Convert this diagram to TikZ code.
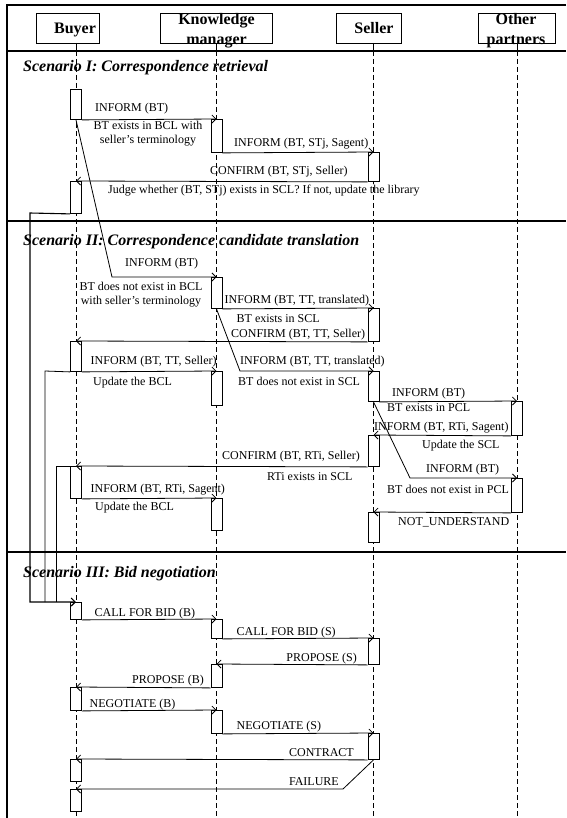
\documentclass[tikz,border=0pt]{standalone}
\usepackage{fontspec}
\setmainfont{Liberation Serif}
\usetikzlibrary{arrows.meta}

\tikzset{
  frame/.style={line width=1.6pt},
  life/.style={line width=0.8pt, dash pattern=on 5pt off 3pt},
  hdr/.style={draw, line width=0.9pt, minimum height=30pt, inner sep=0pt},
  hdrtxt/.style={font=\fontsize{16}{20}\selectfont\bfseries, align=center, inner sep=0pt},
  act/.style={draw, fill=white, line width=0.9pt, minimum width=11pt, inner sep=0pt, anchor=north},
  msg/.style={-{Straight Barb[length=4pt,width=8pt]}, line width=0.8pt},
  lbl/.style={font=\fontsize{12}{14}\selectfont, inner sep=0pt, anchor=base west},
  scen/.style={font=\fontsize{16}{18}\selectfont\bfseries\itshape, inner sep=0pt, anchor=base west}
}

\begin{document}
\begin{tikzpicture}[x=1pt, y=-1pt]
  \useasboundingbox (0,0) rectangle (566,818);

  % Frame and scenario separators
  \draw[frame] (566,5) -- (7,5) -- (7,818);
  \draw[frame] (7,51) -- (566,51);
  \draw[frame] (7,221) -- (566,221);
  \draw[frame] (7,552) -- (566,552);

  % Lifelines
  \draw[line width=0.8pt] (76,43) -- (76,51);
  \draw[line width=0.8pt] (216.5,43) -- (216.5,51);
  \draw[line width=0.8pt] (373.5,43) -- (373.5,51);
  \draw[line width=0.8pt] (517,43) -- (517,51);
  \draw[life] (76,51) -- (76,818);
  \draw[life] (216.5,51) -- (216.5,818);
  \draw[life] (373.5,51) -- (373.5,818);
  \draw[life] (517,51) -- (517,818);

  % Headers
  \node[hdr, minimum width=63pt] (buyer) at (67.5,28) {};
  \node[hdr, minimum width=112.5pt] (km) at (216.25,28) {};
  \node[hdr, minimum width=65pt] (seller) at (368.5,28) {};
  \node[hdr, minimum width=77pt] (other) at (516.5,28) {};
  \node[hdrtxt, anchor=base] (buyertxt) at (75,33.5) {Buyer};
  \node[hdrtxt] (kmtxt) at (216.5,30.3) {Knowledge\\manager};
  \node[hdrtxt, anchor=base] (sellertxt) at (374,33.5) {Seller};
  \node[hdrtxt] (othertxt) at (516,30.3) {Other\\partners};

  % Scenario I
  \node[scen] (scenI) at (23,72) {Scenario I: Correspondence retrieval};
  \node[act, minimum height=30pt] (b1) at (76,89) {};
  \node[act, minimum height=33pt] (k1) at (216.5,119) {};
  \node[act, minimum height=29pt] (s1) at (373.5,152) {};
  \node[act, minimum height=32pt] (b2) at (76,181) {};
  \draw[msg] (b1.south east) -- (k1.north);
  \draw[msg] (k1.south east) -- (s1.north);
  \draw[msg] (s1.south west) -- (b2.north);
  \node[lbl] (tI1) at (95,112) {INFORM (BT)};
  \node[lbl, anchor=center, align=center] (tI2) at (148,134) {BT exists in BCL with\\seller’s terminology};
  \node[lbl] (tI3) at (234,147) {INFORM (BT, STj, Sagent)};
  \node[lbl] (tI4) at (210,175) {CONFIRM (BT, STj, Seller)};
  \node[lbl] (tI5) at (108,194) {Judge whether (BT, STj) exists in SCL? If not, update the library};

  % Scenario II
  \node[scen] (scenII) at (23,245) {Scenario II: Correspondence candidate translation};
  \coordinate (d1) at (112,277);
  \node[act, minimum height=31pt] (k2) at (216.5,277) {};
  \node[act, minimum height=33pt] (s2) at (373.5,308) {};
  \node[act, minimum height=30pt] (b3) at (76,341) {};
  \node[act, minimum height=34pt] (k3) at (216.5,371) {};
  \coordinate (d2) at (240,371);
  \node[act, minimum height=30pt] (s3) at (373.5,371) {};
  \node[act, minimum height=34pt] (o1) at (517,401) {};
  \node[act, minimum height=31pt] (s4) at (373.5,435) {};
  \node[act, minimum height=32pt] (b4) at (76,466) {};
  \node[act, minimum height=32pt] (k4) at (216.5,498) {};
  \coordinate (d3) at (410,478);
  \node[act, minimum height=34pt] (o2) at (517,478) {};
  \node[act, minimum height=30pt] (s5) at (373.5,512) {};
  \draw[msg] (b1.south) -- (d1) -- (k2.north);
  \draw[msg] (k2.south east) -- (s2.north);
  \draw[msg] (s2.south west) -- (b3.north);
  \draw[msg] (b3.south east) -- (k3.north);
  \draw[msg] (k2.south) -- (d2) -- (s3.north);
  \draw[msg] (s3.south east) -- (o1.north);
  \draw[msg] (o1.south west) -- (s4.north);
  \draw[msg] (s4.south west) -- (b4.north);
  \draw[msg] (b4.south east) -- (k4.north);
  \draw[msg] (s3.south) -- (d3) -- (o2.north);
  \draw[msg] (o2.south west) -- (s5.north);
  \node[lbl] (tII1) at (125,266) {INFORM (BT)};
  \node[lbl, anchor=center, align=center] (tII2) at (141,295) {BT does not exist in BCL\\with seller’s terminology};
  \node[lbl] (tII3) at (224.5,303) {INFORM (BT, TT, translated)};
  \node[lbl] (tII4) at (236.5,322) {BT exists in SCL};
  \node[lbl] (tII5) at (231,337) {CONFIRM (BT, TT, Seller)};
  \node[lbl] (tII6) at (90.5,364) {INFORM (BT, TT, Seller)};
  \node[lbl] (tII7) at (240,364) {INFORM (BT, TT, translated)};
  \node[lbl] (tII8) at (93,385) {Update the BCL};
  \node[lbl] (tII9) at (238,385) {BT does not exist in SCL};
  \node[lbl] (tII10) at (392,396) {INFORM (BT)};
  \node[lbl] (tII11) at (387,411) {BT exists in PCL};
  \node[lbl] (tII12) at (374,430) {INFORM (BT, RTi, Sagent)};
  \node[lbl] (tII13) at (422,448) {Update the SCL};
  \node[lbl] (tII14) at (222,459) {CONFIRM (BT, RTi, Seller)};
  \node[lbl] (tII15) at (426,472) {INFORM (BT)};
  \node[lbl] (tII16) at (267,480) {RTi exists in SCL};
  \node[lbl] (tII17) at (90.5,492) {INFORM (BT, RTi, Sagent)};
  \node[lbl] (tII18) at (387,493) {BT does not exist in PCL};
  \node[lbl] (tII19) at (95,510) {Update the BCL};
  \node[lbl] (tII20) at (398,525) {NOT\_UNDERSTAND};

  % Scenario III
  \node[scen] (scenIII) at (23,577) {Scenario III: Bid negotiation};
  \node[act, minimum height=17pt] (b5) at (76,602) {};
  \node[act, minimum height=19pt] (k5) at (216.5,619) {};
  \node[act, minimum height=26pt] (s6) at (373.5,638) {};
  \node[act, minimum height=23pt] (k6) at (216.5,664) {};
  \node[act, minimum height=23pt] (b6) at (76,687) {};
  \node[act, minimum height=23pt] (k7) at (216.5,710) {};
  \node[act, minimum height=26pt] (s7) at (373.5,733) {};
  \node[act, minimum height=22pt] (b7) at (76,759) {};
  \coordinate (d4) at (343,789);
  \node[act, minimum height=22pt] (b8) at (76,789) {};

  % Links from scenarios I and II
  \coordinate (r1) at (30,213);
  \coordinate (r2) at (45,371);
  \coordinate (r3) at (56.5,466);
  \draw[line width=0.8pt] (b3.south west) -- (r2) -- (r2 |- b5.north);
  \draw[line width=0.8pt] (b4.north) -- (r3) -- (r3 |- b5.north);
  \draw[msg, line width=1.1pt] (b2.south west) -- (r1) |- (b5.north);

  \draw[msg] (b5.south east) -- (k5.north);
  \draw[msg] (k5.south east) -- (s6.north);
  \draw[msg] (s6.south west) -- (k6.north);
  \draw[msg] (k6.south west) -- (b6.north);
  \draw[msg] (b6.south east) -- (k7.north);
  \draw[msg] (k7.south east) -- (s7.north);
  \draw[msg] (s7.south west) -- (b7.north);
  \draw[msg] (s7.south) -- (d4) -- (b8.north);
  \node[lbl] (tIII1) at (94.5,616) {CALL FOR BID (B)};
  \node[lbl] (tIII2) at (236.5,635) {CALL FOR BID (S)};
  \node[lbl, anchor=base east] (tIII3) at (357,661) {PROPOSE (S)};
  \node[lbl, anchor=base east] (tIII4) at (204,683) {PROPOSE (B)};
  \node[lbl] (tIII5) at (89.5,707) {NEGOTIATE (B)};
  \node[lbl] (tIII6) at (236.5,729) {NEGOTIATE (S)};
  \node[lbl, anchor=base east] (tIII7) at (354,756) {CONTRACT};
  \node[lbl, anchor=base east] (tIII8) at (339,785) {FAILURE};
\end{tikzpicture}
\end{document}
